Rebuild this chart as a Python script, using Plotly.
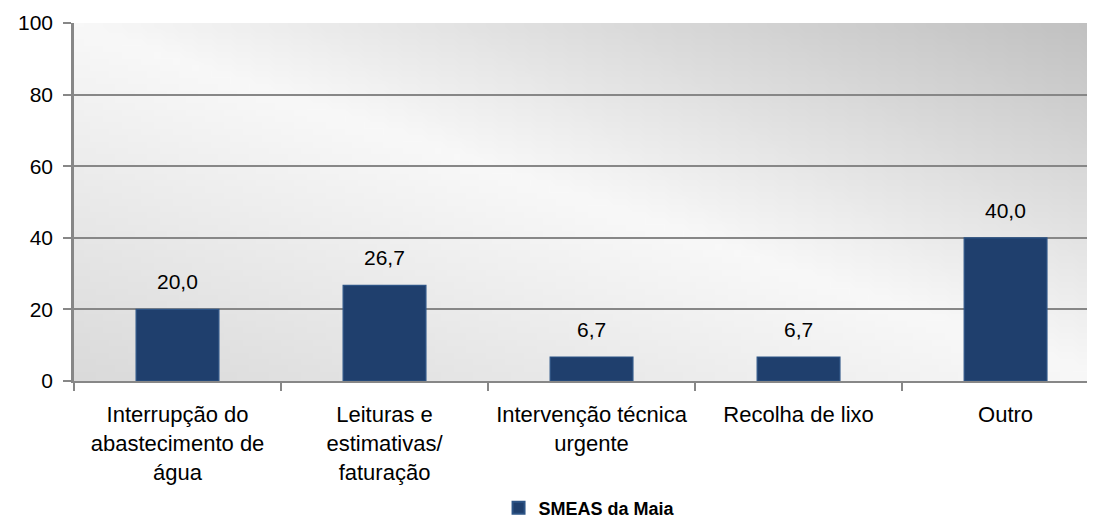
import base64
import struct
import zlib

import plotly.graph_objects as go

categories = [
    "Interrupção do<br>abastecimento de<br>água",
    "Leituras e<br>estimativas/<br>faturação",
    "Intervenção técnica<br>urgente",
    "Recolha de lixo",
    "Outro",
]
values = [20.0, 26.7, 6.7, 6.7, 40.0]
value_labels = ["20,0", "26,7", "6,7", "6,7", "40,0"]
series_name = "SMEAS da Maia"
y_ticks = [0, 20, 40, 60, 80, 100]

FONT = "Liberation Sans, Arial, sans-serif"


def gradient_png(w, h, visible=1021 / 1036):
    # diagonal grey-white-grey fill like the Excel plot area
    stops = [(0.0, 218), (0.5, 248), (1.0, 192)]
    rows = []
    for j in range(h):
        fy = j / (h - 1)
        row = bytearray()
        for i in range(w):
            fx = i / (w - 1) * visible
            t = (fx + (1 - fy)) / 2
            if t <= 0.5:
                v = stops[0][1] + (stops[1][1] - stops[0][1]) * t / 0.5
            else:
                v = stops[1][1] + (stops[2][1] - stops[1][1]) * (t - 0.5) / 0.5
            v = int(round(v))
            row += bytes((v, v, v))
        rows.append(b"\x00" + bytes(row))
    raw = b"".join(rows)

    def chunk(tag, data):
        c = struct.pack(">I", len(data)) + tag + data
        return c + struct.pack(">I", zlib.crc32(tag + data) & 0xFFFFFFFF)

    png = b"\x89PNG\r\n\x1a\n"
    png += chunk(b"IHDR", struct.pack(">IIBBBBB", w, h, 8, 2, 0, 0, 0))
    png += chunk(b"IDAT", zlib.compress(raw, 9))
    png += chunk(b"IEND", b"")
    return "data:image/png;base64," + base64.b64encode(png).decode()


xpos = list(range(len(categories)))

fig = go.Figure()
fig.add_trace(go.Bar(
    x=xpos,
    y=values,
    name=series_name,
    width=0.4,
    marker=dict(color="#1f3f6d", line=dict(color="#2d5486", width=1.2)),
    hoverinfo="skip",
    showlegend=True,
))

# value labels above the bars
for xv, yv, lab in zip(xpos, values, value_labels):
    fig.add_annotation(
        x=xv, y=yv, text=lab, showarrow=False,
        yanchor="bottom", yshift=14,
        font=dict(family=FONT, size=21, color="#000000"),
    )

fig.add_layout_image(dict(
    source=gradient_png(160, 56),
    xref="paper", yref="paper", x=0, y=1, sizex=1, sizey=1,
    xanchor="left", yanchor="top", sizing="stretch", layer="below",
))

# page body keeps an 8px margin, so the figure is 8px smaller than the window
fig.update_layout(
    width=1087,
    height=514,
    margin=dict(l=66, r=0, t=15, b=141),
    paper_bgcolor="white",
    plot_bgcolor="rgba(0,0,0,0)",
    font=dict(family=FONT, size=20, color="#000000"),
    showlegend=True,
    legend=dict(
        orientation="h", xref="container", yref="container",
        x=0.535, xanchor="center", y=0.027, yanchor="middle",
        font=dict(family=FONT, size=18, color="#000000", weight="bold"),
        itemsizing="constant",
    ),
    xaxis=dict(
        range=[-0.5, 4.432],
        tickmode="array",
        tickvals=xpos,
        ticktext=categories,
        ticks="",
        showgrid=False,
        showline=True, linecolor="#878787", linewidth=2,
        ticklabelstandoff=13,
        tickfont=dict(family=FONT, size=22),
        minor=dict(tickmode="linear", tick0=-0.5, dtick=1, ticks="outside",
                   ticklen=8, tickcolor="#878787", tickwidth=1.5, showgrid=False),
        zeroline=False,
        automargin=False,
        fixedrange=True,
    ),
    yaxis=dict(
        range=[0, 100],
        tickmode="array",
        tickvals=y_ticks,
        ticks="outside", ticklen=8, tickcolor="#878787", tickwidth=1.5,
        showgrid=True, gridcolor="#878787", gridwidth=1.5,
        showline=True, linecolor="#878787", linewidth=2.5,
        zeroline=False,
        tickfont=dict(family=FONT, size=21),
        ticklabelstandoff=6,
        automargin=False,
        fixedrange=True,
    ),
)

fig.write_html("out.html")
